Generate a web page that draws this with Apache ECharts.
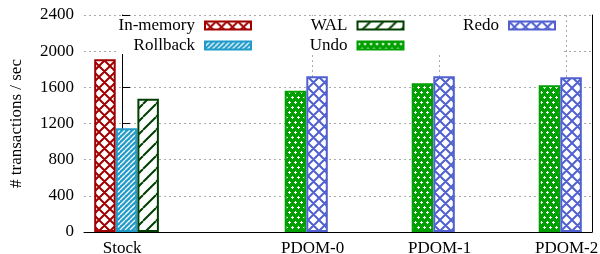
<!DOCTYPE html>
<html>
<head>
<meta charset="utf-8">
<script src="https://cdn.jsdelivr.net/npm/echarts@6/dist/echarts.min.js"></script>
<style>
html, body { margin: 0; padding: 0; background: #fff; }
#chart { width: 600px; height: 254px; }
</style>
</head>
<body>
<div id="chart"></div>
<script>
// 数据
var categories = ['Stock', 'PDOM-0', 'PDOM-1', 'PDOM-2'];
var catPos = [0, 1.5, 2.5, 3.5];
var yTicks = [0, 400, 800, 1200, 1600, 2000, 2400];
var inMemory = [1910, null, null, null];
var rollback = [1147, null, null, null];
var wal = [1475, null, null, null];
var undo = [null, 1563, 1645, 1622];
var redo = [null, 1722, 1722, 1711];

var font = 'Liberation Serif';

// 填充图案
function makePattern(w, h, draw) {
    var c = document.createElement('canvas');
    c.width = w;
    c.height = h;
    draw(c.getContext('2d'), w, h);
    return { image: c, repeat: 'repeat' };
}
function crossHatch(col) {
    return makePattern(11, 11, function (ctx, w, h) {
        ctx.fillStyle = '#fff';
        ctx.fillRect(0, 0, w, h);
        ctx.strokeStyle = col;
        ctx.lineWidth = 2;
        ctx.beginPath();
        [-w, 0, w].forEach(function (dx) {
            ctx.moveTo(dx, 0); ctx.lineTo(dx + w, h);
            ctx.moveTo(dx + w, 0); ctx.lineTo(dx, h);
        });
        ctx.stroke();
    });
}
function slash(bg, fg, s, lw) {
    return makePattern(s, s, function (ctx, w, h) {
        ctx.fillStyle = bg;
        ctx.fillRect(0, 0, w, h);
        ctx.strokeStyle = fg;
        ctx.lineWidth = lw;
        ctx.beginPath();
        [-w, 0, w].forEach(function (dx) {
            ctx.moveTo(dx, h); ctx.lineTo(dx + w, 0);
        });
        ctx.stroke();
    });
}
var dots = makePattern(6, 10, function (ctx, w, h) {
    ctx.fillStyle = '#00a000';
    ctx.fillRect(0, 0, w, h);
    ctx.fillStyle = '#fff';
    ctx.fillRect(0, 2, 3, 1); ctx.fillRect(1, 1, 1, 3);
    ctx.fillRect(3, 7, 3, 1); ctx.fillRect(4, 6, 1, 3);
});

var styles = [
    { name: 'In-memory', data: inMemory, slot: -0.135, border: '#a00000', fill: crossHatch('#a00000') },
    { name: 'Rollback', data: rollback, slot: 0.035, border: '#1e9bc9', fill: slash('#1e9bc9', '#fff', 5, 1.3) },
    { name: 'WAL', data: wal, slot: 0.205, border: '#003f00', fill: slash('#fff', '#003f00', 13, 2) },
    { name: 'Undo', data: undo, slot: -0.135, border: '#00a000', fill: dots },
    { name: 'Redo', data: redo, slot: 0.035, border: '#5060d0', fill: crossHatch('#5060d0') }
];

var series = styles.map(function (s) {
    var pts = [];
    s.data.forEach(function (v, i) {
        if (v != null) pts.push([catPos[i] + s.slot, v]);
    });
    return {
        name: s.name,
        type: 'bar',
        data: pts,
        barWidth: 21.5,
        barGap: '-100%',
        itemStyle: { color: s.fill, borderColor: s.border, borderWidth: 2 }
    };
});

// 图例位置
var legendPos = [
    { right: 348, top: 17 },
    { right: 348, top: 37 },
    { right: 195.5, top: 17 },
    { right: 195.5, top: 37 },
    { right: 44, top: 17 }
];
var legends = styles.map(function (s, i) {
    return {
        data: [{ name: s.name, icon: 'rect' }],
        right: legendPos[i].right,
        top: legendPos[i].top,
        padding: 0,
        align: 'right',
        itemWidth: 46,
        itemHeight: 8,
        itemStyle: { borderColor: s.border, borderWidth: 2 },
        textStyle: { fontFamily: font, fontSize: 17, color: '#000', padding: [0, 5, 0, 0] }
    };
});

var myChart = echarts.init(document.getElementById('chart'));
var option = {
    animation: false,
    backgroundColor: '#fff',
    grid: { left: 84, right: 8, top: 15, bottom: 22, outerBoundsMode: 'none' },
    legend: legends,
    graphic: [{
        type: 'rect',
        z: 1,
        shape: { x: 117, y: 16, width: 445, height: 38 },
        style: { fill: '#fff' }
    }],
    xAxis: {
        type: 'value',
        min: -0.3,
        max: 3.7,
        axisLine: { lineStyle: { color: '#000', width: 1 } },
        axisTick: { show: false, customValues: catPos },
        axisLabel: {
            customValues: catPos,
            margin: 8,
            fontFamily: font,
            fontSize: 17,
            color: '#000',
            formatter: function (v) {
                var i = catPos.indexOf(v);
                return i >= 0 ? categories[i] : '';
            }
        },
        splitLine: { show: true, lineStyle: { color: '#aaa', type: [2, 3] } }
    },
    yAxis: [{
        type: 'value',
        min: yTicks[0],
        max: yTicks[yTicks.length - 1],
        interval: 400,
        name: '# transactions / sec',
        nameLocation: 'middle',
        nameGap: 59,
        nameTextStyle: { fontFamily: font, fontSize: 17, color: '#000' },
        axisLine: { show: true, lineStyle: { color: '#000', width: 1 } },
        axisTick: { show: true, inside: true, length: 8, lineStyle: { color: '#000' } },
        axisLabel: {
            margin: 10, fontFamily: font, fontSize: 17, color: '#000',
            formatter: function (v) { return String(v); }
        },
        splitLine: { show: true, lineStyle: { color: '#aaa', type: [2, 3] } }
    }, {
        type: 'value',
        position: 'right',
        min: yTicks[0],
        max: yTicks[yTicks.length - 1],
        interval: 400,
        axisLine: { show: true, lineStyle: { color: '#000', width: 1 } },
        axisTick: { show: false },
        axisLabel: { show: false },
        splitLine: { show: false }
    }],
    series: series
};
myChart.setOption(option);
</script>
</body>
</html>
